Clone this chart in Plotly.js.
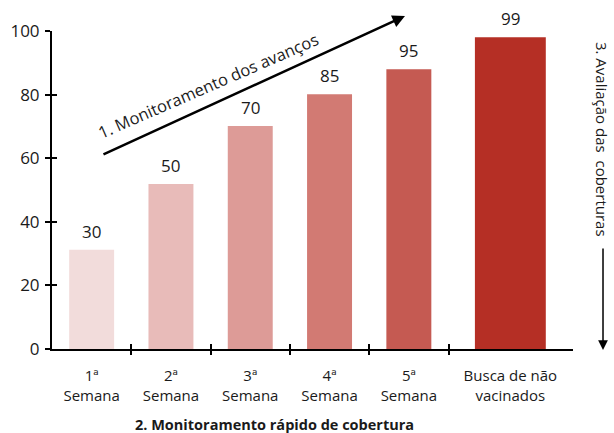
<!DOCTYPE html>
<html>
<head>
<meta charset="utf-8">
<script src="https://cdn.plot.ly/plotly-3.0.1.min.js"></script>
<style>html,body{margin:0;padding:0;background:#fff;}#chart{width:614px;height:433px;}</style>
</head>
<body>
<div id="chart"></div>
<script>
// Data
const categories = ["1ª<br>Semana", "2ª<br>Semana", "3ª<br>Semana", "4ª<br>Semana", "5ª<br>Semana", "Busca de não<br>vacinados"];
const barPositions = [0, 1, 2, 3, 4, 5.28];
const barValues = [31.2, 51.9, 70.1, 80.1, 88.0, 98.0];
const barLabels = ["30", "50", "70", "85", "95", "99"];
const barWidths = [0.567, 0.567, 0.567, 0.567, 0.567, 0.894];
const barColors = ["#f2dcdb", "#e8bbb9", "#dd9b97", "#d27a73", "#c55a52", "#b52f25"];
const boundaryTicks = [0.5, 1.5, 2.5, 3.5, 4.5];
const yTicks = [0, 20, 40, 60, 80, 100];

const FONT = "Open Sans, Noto Sans, sans-serif";
const TXT = "#1a1a1a";
const xRange = [-0.5, 6.07];
const yRange = [0, 100];

const traces = [
  {
    type: "bar",
    x: barPositions,
    y: barValues,
    width: barWidths,
    marker: {color: barColors, line: {width: 0}},
    hoverinfo: "skip",
    showlegend: false
  },
  {type: "scatter", x: [], y: [], xaxis: "x2", yaxis: "y", hoverinfo: "skip", showlegend: false},
  {type: "scatter", x: [], y: [], xaxis: "x3", yaxis: "y", hoverinfo: "skip", showlegend: false},
  {type: "scatter", x: [], y: [], xaxis: "x", yaxis: "y2", hoverinfo: "skip", showlegend: false}
];

const annotations = barPositions.map((p, i) => ({
  x: p, y: barValues[i], xref: "x", yref: "y",
  text: barLabels[i], showarrow: false,
  yanchor: "bottom", yshift: 5,
  font: {family: FONT, size: 17, color: TXT}
}));

annotations.push({
  xref: "paper", yref: "paper", x: 0.428, y: -0.236,
  text: "<b>2. Monitoramento rápido de cobertura</b>", showarrow: false,
  xanchor: "center", yanchor: "middle",
  font: {family: FONT, size: 14.5, color: TXT}
});
annotations.push({
  xref: "paper", yref: "paper", x: 1.056, y: 0.660,
  text: "3. Avaliação das&nbsp; coberturas", showarrow: false, textangle: 90,
  xanchor: "center", yanchor: "middle",
  font: {family: FONT, size: 15, color: TXT}
});
annotations.push({
  xref: "paper", yref: "paper", x: 1.0576, y: -0.003,
  text: "", showarrow: true, ax: 0, ay: -103,
  arrowhead: 2, arrowsize: 1.3, arrowwidth: 1.5, arrowcolor: "#000"
});
annotations.push({
  xref: "paper", yref: "paper", x: 0.6775, y: 1.047,
  text: "", showarrow: true, ax: -303, ay: 139,
  arrowhead: 2, arrowsize: 1, arrowwidth: 2.5, arrowcolor: "#000"
});
annotations.push({
  xref: "paper", yref: "paper", x: 0.2995, y: 0.829,
  text: "1. Monitoramento dos avanços", showarrow: false, textangle: -23.5,
  xanchor: "center", yanchor: "middle",
  font: {family: FONT, size: 16.5, color: TXT}
});

const layout = {
  width: 614, height: 433,
  margin: {l: 52, r: 41, t: 31, b: 84, pad: 0},
  paper_bgcolor: "#fff", plot_bgcolor: "#fff",
  showlegend: false,
  font: {family: FONT, color: TXT},
  xaxis: {
    range: xRange, tickvals: barPositions, ticktext: categories,
    ticks: "", showline: true, linecolor: "#000", linewidth: 2,
    showgrid: false, zeroline: false, fixedrange: true,
    ticklabelstandoff: 12,
    tickfont: {family: FONT, size: 15, color: TXT}
  },
  xaxis2: {
    range: xRange, overlaying: "x", anchor: "y", side: "bottom",
    tickvals: boundaryTicks, ticks: "outside", ticklen: 5, tickwidth: 2, tickcolor: "#000",
    showticklabels: false, showline: false, showgrid: false, zeroline: false
  },
  xaxis3: {
    range: xRange, overlaying: "x", anchor: "y", side: "bottom",
    tickvals: boundaryTicks, ticks: "inside", ticklen: 5, tickwidth: 2, tickcolor: "#000",
    showticklabels: false, showline: false, showgrid: false, zeroline: false
  },
  yaxis: {
    range: yRange, tickvals: yTicks,
    ticks: "outside", ticklen: 5, tickwidth: 2, tickcolor: "#000",
    showline: true, linecolor: "#000", linewidth: 2,
    showgrid: false, zeroline: false, fixedrange: true,
    ticklabelstandoff: 2,
    tickfont: {family: FONT, size: 17, color: TXT}
  },
  yaxis2: {
    range: yRange, overlaying: "y", anchor: "x", side: "left",
    tickvals: yTicks, ticks: "inside", ticklen: 5, tickwidth: 2, tickcolor: "#000",
    showticklabels: false, showline: false, showgrid: false, zeroline: false
  },
  annotations: annotations
};

Plotly.newPlot("chart", traces, layout, {displayModeBar: false, staticPlot: true});
</script>
</body>
</html>
